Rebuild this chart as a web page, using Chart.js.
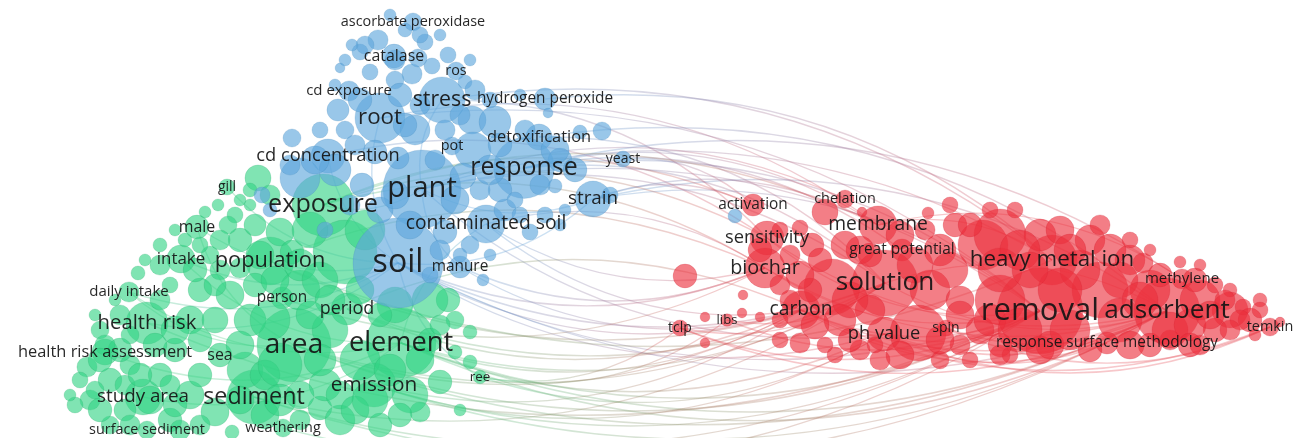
<!DOCTYPE html>
<html>
<head>
<meta charset="utf-8">
<script src="https://cdn.jsdelivr.net/npm/chart.js@4.4.1/dist/chart.umd.min.js"></script>
<style>
  html, body { margin: 0; padding: 0; background: #fff; }
  #wrap { width: 1294px; height: 438px; position: relative; }
</style>
</head>
<body>
<div id="wrap"><canvas id="mappa"></canvas></div>
<script>
// Term map: x/y are map coordinates, occ = occurrences
// the first entries of every cluster carry a label, the rest are unlabeled terms

// blue cluster (plant / stress)
const blueTerms = ["ascorbate peroxidase", "catalase", "ros", "cd exposure", "stress", "hydrogen peroxide", "root",
  "detoxification", "pot", "cd concentration", "yeast", "response", "plant", "strain", "contaminated soil", "soil", "manure"];
const blueX = [413, 394, 456, 349, 442, 545, 380, 539, 452, 328, 623, 524, 422, 593, 486, 398, 460,
  390, 378, 360, 345, 340, 425, 448, 432, 412, 395, 370, 335, 465, 338, 345, 415, 472, 495, 473, 463, 580, 602, 548, 520,
  292, 300, 335, 362, 375, 398, 380, 410, 445, 470, 483, 555, 545, 530, 505, 560, 735, 560, 500, 262, 435,
  405, 420, 365, 352, 395, 418, 440, 470, 475, 490, 460, 400, 360, 420, 320, 355, 315, 290, 350, 395, 455, 480, 500,
  525, 555, 575, 540, 515, 440, 430, 460, 490, 520, 565, 610, 405, 445, 490, 325, 270];
const blueY = [22, 56, 71, 91, 100, 99, 118, 137, 146, 156, 159, 168, 189, 199, 224, 263, 267,
  15, 40, 52, 60, 68, 42, 55, 66, 74, 80, 72, 85, 82, 110, 130, 130, 120, 122, 150, 176, 132, 131, 113, 95,
  138, 178, 170, 185, 152, 158, 210, 225, 232, 245, 280, 186, 215, 232, 210, 225, 216, 160, 190, 195, 160,
  30, 35, 45, 45, 60, 58, 35, 60, 90, 100, 115, 95, 100, 105, 130, 145, 160, 165, 205, 195, 200, 190, 145,
  130, 150, 170, 185, 200, 250, 275, 255, 255, 215, 210, 195, 125, 130, 170, 230, 210];
const blueOcc = [10, 22, 10, 14, 111, 18, 134, 28, 10, 54, 7, 208, 359, 62, 71, 489, 18,
  2.5, 14, 7, 2.5, 1, 7, 7, 7, 14, 10, 7, 2.5, 4.4, 18, 10, 40, 34, 47, 62, 28, 4.4, 10, 1, 2.5,
  10, 80, 47, 22, 22, 18, 28, 34, 22, 10, 2.5, 4.4, 7, 7, 18, 2.5, 4.4, 22, 22, 7, 14,
  4.4, 7, 10, 2.5, 14, 10, 2.5, 2.5, 14, 7, 14, 22, 22, 14, 7, 14, 34, 14, 14, 34, 34, 14, 22,
  14, 34, 22, 14, 7, 14, 7, 4.4, 2.5, 7, 2.5, 7, 22, 14, 40, 7, 4.4];

// green cluster (exposure / health risk)
const greenTerms = ["gill", "male", "intake", "population", "exposure", "daily intake", "person", "period", "health risk",
  "health risk assessment", "sea", "area", "element", "ree", "emission", "study area", "sediment", "surface sediment", "weathering"];
const greenX = [227, 197, 181, 270, 323, 129, 282, 347, 147, 105, 220, 294, 401, 480, 374, 143, 254, 147, 283,
  258, 218, 205, 235, 240, 255, 280, 292, 170, 138, 115, 100, 87, 90, 110, 130, 175, 190, 215, 200, 230, 250, 245, 190, 215,
  170, 110, 232, 300, 320, 455, 470, 455, 440, 420, 470, 448, 345, 300, 330, 360, 410, 340, 380, 265, 325, 430, 310,
  160, 145, 210, 220, 255, 75, 125, 95, 160, 200, 270, 250, 260, 365, 300, 395, 460, 120,
  250, 240, 228, 220, 200, 185, 175, 160, 195, 215, 240, 275, 320, 330, 310, 270, 280, 240, 200, 175, 155, 130, 105, 120,
  160, 95, 80, 100, 125, 150, 175, 180, 130, 200, 240, 265, 280, 300, 340, 355, 370, 400, 390, 420, 430, 440, 360, 380,
  320, 140, 170, 70, 100];
const greenY = [187, 227, 259, 261, 205, 292, 298, 309, 323, 352, 355, 345, 343, 377, 385, 397, 397, 430, 428,
  178, 205, 212, 215, 240, 225, 232, 252, 285, 273, 300, 330, 367, 400, 380, 365, 350, 320, 320, 290, 295, 320, 370, 395, 412,
  420, 425, 432, 420, 408, 320, 332, 352, 382, 412, 362, 300, 252, 290, 330, 360, 395, 420, 425, 375, 385, 300, 230,
  245, 260, 255, 270, 285, 405, 410, 390, 375, 375, 195, 205, 255, 230, 265, 305, 410, 350,
  190, 200, 225, 240, 245, 240, 230, 265, 270, 285, 268, 280, 280, 300, 315, 320, 365, 345, 340, 330, 345, 335, 345, 315,
  300, 315, 380, 410, 385, 400, 405, 430, 425, 425, 400, 415, 400, 395, 395, 410, 400, 415, 370, 360, 340, 325, 290, 315,
  360, 375, 385, 395, 360];
const greenOcc = [7, 22, 34, 122, 217, 14, 18, 47, 90, 28, 22, 320, 284, 4, 100, 62, 160, 10, 10,
  28, 2.5, 2.5, 7, 22, 18, 34, 22, 7, 4.4, 2.5, 10, 14, 14, 22, 14, 22, 34, 28, 22, 34, 47, 62, 34, 34,
  22, 10, 4.4, 14, 22, 10, 4.4, 4.4, 22, 14, 4.4, 22, 233, 80, 62, 80, 62, 40, 22, 40, 47, 62, 62,
  4.4, 2.5, 10, 14, 22, 7, 18, 10, 22, 22, 14, 2.5, 34, 80, 47, 62, 2.5, 22,
  4.4, 2.5, 10, 14, 7, 4.4, 2.5, 14, 22, 18, 14, 34, 62, 40, 34, 80, 100, 34, 22, 34, 22, 10, 14, 14,
  14, 2.5, 7, 22, 14, 34, 22, 14, 14, 14, 34, 34, 47, 34, 34, 34, 62, 22, 47, 34, 22, 14, 34, 22,
  47, 22, 14, 2.5, 22];

// red cluster (adsorption / removal)
const redTerms = ["activation", "chelation", "membrane", "sensitivity", "great potential", "biochar", "solution",
  "heavy metal ion", "methylene", "carbon", "removal", "adsorbent", "tclp", "libs", "spin", "ph value", "temkin",
  "response surface methodology"];
const redX = [753, 845, 878, 767, 902, 765, 885, 1052, 1182, 801, 1040, 1167, 680, 727, 946, 884, 1270, 1107,
  685, 743, 705, 705, 742, 760, 780, 790, 825, 800, 812, 928, 862, 832, 930, 983, 918, 800, 825, 860, 875, 960, 980,
  1000, 1000, 1100, 1130, 1150, 1200, 1230, 1250, 1230, 1243, 1280, 1143, 1180, 1050, 1000, 1150, 1200, 960, 1080, 1120,
  1070, 1000, 1090, 1040, 940, 860, 840, 870, 955, 810, 780, 1215, 1260, 1015, 1010, 1170, 940,
  800, 820, 845, 870, 900, 915, 950, 960, 990, 940, 900, 880, 850, 835, 815, 790, 780, 1020, 1060, 1110, 1120, 1060,
  1020, 1040, 1090, 1130, 1170, 1190, 1210, 1225, 1215, 1240, 1260, 1230, 1195, 1160, 1140, 1190, 1070, 1030, 970,
  950, 990, 1100, 1130, 1150, 1255, 1200, 1000, 970, 925, 760, 780, 850];
const redY = [205, 199, 225, 238, 250, 268, 283, 260, 279, 310, 311, 311, 328, 320, 328, 334, 327, 343,
  276, 295, 317, 343, 313, 317, 285, 255, 212, 228, 245, 213, 212, 287, 290, 245, 333, 343, 345, 350, 345, 345, 330,
  300, 235, 290, 260, 290, 300, 310, 320, 290, 307, 322, 263, 262, 345, 345, 345, 345, 300, 270, 320,
  330, 270, 240, 235, 250, 250, 320, 310, 225, 290, 320, 330, 300, 210, 355, 340, 360,
  275, 260, 245, 255, 235, 265, 270, 315, 320, 340, 355, 360, 340, 355, 325, 300, 340, 250, 230, 250, 280, 290,
  330, 350, 350, 345, 330, 325, 315, 300, 285, 320, 310, 330, 280, 275, 300, 345, 250, 270, 225,
  205, 210, 225, 240, 250, 335, 265, 355, 360, 230, 250, 230, 300];
const redOcc = [18, 10, 71, 54, 18, 80, 249, 134, 14, 71, 443, 249, 7, 3, 7, 54, 10, 18,
  22, 1, 1, 1, 1, 1, 14, 14, 28, 7, 22, 2.5, 1, 173, 80, 134, 173, 14, 7, 14, 7, 14, 34,
  134, 146, 173, 40, 80, 80, 62, 22, 4.4, 7, 1, 14, 2.5, 34, 22, 22, 14, 34, 80, 100,
  80, 100, 40, 47, 47, 34, 47, 40, 22, 22, 7, 22, 4.4, 7, 7, 14, 10,
  34, 22, 34, 22, 34, 62, 62, 34, 47, 34, 34, 14, 22, 7, 34, 14, 7, 80, 34, 47, 62, 100,
  100, 34, 22, 34, 62, 47, 34, 14, 7, 14, 7, 14, 22, 22, 62, 22, 47, 62, 22,
  7, 7, 14, 7, 2.5, 2.5, 2.5, 14, 7, 14, 22, 7, 62];

// co-occurrence links [from, to]
const links = [
  // red -> blue
  ["solution", "plant"], ["solution", "response"], ["removal", "plant"], ["removal", "response"],
  ["adsorbent", "strain"], ["heavy metal ion", "stress"], ["membrane", "response"], ["sensitivity", "stress"],
  ["activation", "yeast"], ["membrane", "root"], ["heavy metal ion", "plant"], ["solution", "detoxification"],
  ["biochar", "contaminated soil"], ["sensitivity", "cd concentration"], ["chelation", "plant"],
  ["great potential", "response"], ["adsorbent", "detoxification"], ["removal", "strain"], ["methylene", "response"],
  ["heavy metal ion", "hydrogen peroxide"], ["removal", "root"], ["membrane", "strain"], ["activation", "strain"],
  // blue -> red
  ["soil", "carbon"], ["soil", "removal"], ["soil", "solution"], ["soil", "biochar"], ["soil", "ph value"],
  ["contaminated soil", "carbon"], ["manure", "biochar"], ["plant", "ph value"], ["manure", "carbon"],
  ["soil", "adsorbent"], ["contaminated soil", "biochar"],
  // green -> red
  ["area", "removal"], ["element", "solution"], ["element", "adsorbent"], ["emission", "carbon"],
  ["sediment", "removal"], ["ree", "ph value"], ["health risk", "removal"], ["period", "solution"],
  ["population", "heavy metal ion"], ["emission", "removal"], ["element", "ph value"], ["area", "solution"],
  ["sediment", "adsorbent"], ["ree", "tclp"], ["element", "carbon"], ["person", "biochar"], ["period", "carbon"],
  ["element", "response surface methodology"], ["ree", "libs"], ["area", "adsorbent"], ["emission", "ph value"],
  ["sediment", "solution"], ["element", "removal"], ["emission", "adsorbent"], ["area", "carbon"],
  ["population", "solution"], ["weathering", "removal"],
  // red -> green
  ["sensitivity", "exposure"], ["activation", "exposure"], ["biochar", "population"], ["membrane", "exposure"],
  ["carbon", "period"], ["biochar", "exposure"],
  // red internal
  ["carbon", "adsorbent"], ["ph value", "removal"], ["solution", "adsorbent"], ["carbon", "removal"],
  ["biochar", "removal"], ["ph value", "adsorbent"], ["spin", "temkin"], ["carbon", "response surface methodology"],
  ["tclp", "removal"], ["libs", "solution"], ["biochar", "adsorbent"], ["sensitivity", "removal"],
  ["heavy metal ion", "membrane"], ["adsorbent", "solution"], ["methylene", "membrane"], ["tclp", "solution"],
  ["ph value", "temkin"], ["spin", "adsorbent"], ["carbon", "temkin"], ["ph value", "response surface methodology"],
  ["libs", "removal"], ["tclp", "adsorbent"], ["sensitivity", "adsorbent"],
  // green / blue internal
  ["daily intake", "area"], ["intake", "element"], ["male", "area"], ["health risk assessment", "element"],
  ["gill", "soil"], ["cd concentration", "soil"], ["root", "soil"], ["stress", "plant"], ["plant", "strain"],
  ["plant", "manure"], ["soil", "strain"], ["exposure", "plant"], ["daily intake", "soil"], ["health risk", "soil"],
  ["soil", "ree"], ["contaminated soil", "element"], ["study area", "element"], ["intake", "soil"],
  ["male", "soil"], ["daily intake", "element"]
];

const clusters = [
  { terms: redTerms, xs: redX, ys: redY, occ: redOcc, fill: "rgba(236, 46, 60, 0.62)", edge: "rgba(200, 30, 45, 0.30)", line: "rgba(228, 70, 80, 0.30)" },
  { terms: blueTerms, xs: blueX, ys: blueY, occ: blueOcc, fill: "rgba(96, 168, 220, 0.64)", edge: "rgba(60, 125, 175, 0.30)", line: "rgba(95, 160, 215, 0.32)" },
  { terms: greenTerms, xs: greenX, ys: greenY, occ: greenOcc, fill: "rgba(50, 212, 132, 0.62)", edge: "rgba(30, 150, 90, 0.28)", line: "rgba(70, 200, 125, 0.30)" }
];

const raggio = occ => 3 + 1.9 * Math.sqrt(occ);
const fontLabel = occ => 11.5 + 0.93 * Math.sqrt(occ);

// lookup term -> node (solo i termini con etichetta)
const nodi = {};
clusters.forEach(c => {
  c.terms.forEach((t, i) => {
    nodi[t] = { x: c.xs[i], y: c.ys[i], occ: c.occ[i], line: c.line };
  });
});

const linkPlugin = {
  id: "links",
  beforeDatasetsDraw(chart) {
    const { ctx, scales: { x, y } } = chart;
    ctx.save();
    ctx.lineWidth = 1.4;
    links.forEach(([a, b]) => {
      const A = nodi[a], B = nodi[b];
      if (!A || !B) return;
      const ax = x.getPixelForValue(A.x), ay = y.getPixelForValue(A.y);
      const bx = x.getPixelForValue(B.x), by = y.getPixelForValue(B.y);
      const dx = bx - ax, dy = by - ay;
      const cx = (ax + bx) / 2 - dy * 0.22;
      const cy = (ay + by) / 2 + dx * 0.22;
      const g = ctx.createLinearGradient(ax, ay, bx, by);
      g.addColorStop(0, A.line);
      g.addColorStop(1, B.line);
      ctx.strokeStyle = g;
      ctx.beginPath();
      ctx.moveTo(ax, ay);
      ctx.quadraticCurveTo(cx, cy, bx, by);
      ctx.stroke();
    });
    ctx.restore();
  }
};

const labelPlugin = {
  id: "etichette",
  afterDatasetsDraw(chart) {
    const { ctx, scales: { x, y } } = chart;
    const lista = Object.keys(nodi).map(t => ({ t, ...nodi[t] })).sort((a, b) => a.occ - b.occ);
    ctx.save();
    ctx.textAlign = "center";
    ctx.textBaseline = "middle";
    ctx.fillStyle = "rgba(20, 20, 20, 0.92)";
    lista.forEach(n => {
      ctx.font = fontLabel(n.occ).toFixed(1) + 'px "Open Sans", "Noto Sans", sans-serif';
      ctx.fillText(n.t, x.getPixelForValue(n.x), y.getPixelForValue(n.y));
    });
    ctx.restore();
  }
};

const datasets = clusters.map(c => ({
  data: c.xs.map((v, i) => ({ x: v, y: c.ys[i], r: raggio(c.occ[i]) })),
  backgroundColor: c.fill,
  borderColor: c.edge,
  borderWidth: 0.6,
  hoverRadius: 0,
  clip: false
}));

new Chart(document.getElementById("mappa"), {
  type: "bubble",
  data: { datasets },
  options: {
    responsive: true,
    maintainAspectRatio: false,
    animation: false,
    layout: { padding: 0, autoPadding: false },
    scales: {
      x: { type: "linear", min: 0, max: 1294, display: false },
      y: { type: "linear", min: 0, max: 438, reverse: true, display: false }
    },
    plugins: {
      legend: { display: false },
      tooltip: { enabled: false }
    }
  },
  plugins: [linkPlugin, labelPlugin]
});
</script>
</body>
</html>
